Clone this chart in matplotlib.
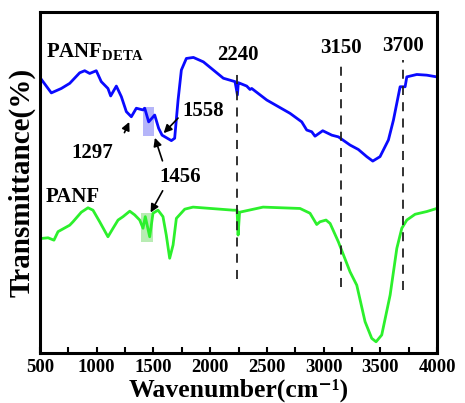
import numpy as np
import matplotlib.pyplot as plt
from matplotlib.patches import Rectangle

plt.rcParams['font.family'] = ['Liberation Serif', 'DejaVu Serif']
plt.rcParams['font.weight'] = 'bold'
plt.rcParams['axes.labelweight'] = 'bold'
plt.rcParams['mathtext.fontset'] = 'custom'
plt.rcParams['mathtext.rm'] = 'Liberation Serif:bold'
plt.rcParams['mathtext.bf'] = 'Liberation Serif:bold'
plt.rcParams['mathtext.default'] = 'rm'

# FTIR spectra (transmittance, arbitrary offset units)
wn_deta = [511, 600, 688, 762, 850, 894, 938, 996, 1040, 1099, 1123, 1173, 1217,
           1261, 1305, 1349, 1408, 1423, 1458, 1511, 1546, 1576, 1658, 1687, 1717,
           1746, 1790, 1852, 1940, 2028, 2116, 2219, 2240, 2248, 2263, 2322, 2351,
           2366, 2499, 2704, 2807, 2851, 2895, 2924, 2992, 3072, 3130, 3233, 3306,
           3380, 3433, 3497, 3571, 3615, 3674, 3718, 3733, 3821, 3909, 3997]
t_deta = [80.3, 76.3, 77.6, 79.1, 82.2, 82.8, 82.0, 82.8, 79.6, 77.6, 75.4, 78.3, 75.2,
          70.8, 69.3, 71.8, 71.3, 71.8, 67.8, 69.8, 65.9, 63.9, 62.3, 63.0, 74.2,
          83.0, 86.4, 86.7, 85.4, 83.0, 80.6, 79.6, 75.7, 79.3, 79.1, 78.3, 77.3,
          77.6, 74.2, 70.3, 67.8, 65.4, 64.9, 63.6, 65.2, 63.9, 63.4, 61.0, 59.7,
          57.6, 56.3, 57.6, 62.5, 68.3, 78.1, 78.1, 81.0, 81.7, 81.5, 81.0]

wn_panf = [511, 571, 623, 659, 762, 791, 864, 923, 967, 1026, 1099, 1144, 1188,
           1232, 1291, 1335, 1379, 1408, 1428, 1467, 1496, 1540, 1584, 1613, 1643,
           1673, 1702, 1776, 1849, 2201, 2237, 2246, 2259, 2466, 2792, 2880, 2939,
           2968, 3021, 3057, 3130, 3233, 3292, 3365, 3424, 3462, 3512, 3586, 3645,
           3689, 3733, 3806, 3909, 3997]
t_panf = [33.6, 33.8, 33.1, 35.6, 37.5, 38.5, 41.3, 42.6, 41.9, 38.5, 34.1, 36.6, 39.0,
          40.0, 41.6, 40.5, 39.0, 36.6, 40.0, 34.1, 41.0, 41.9, 40.0, 34.6, 27.8,
          31.7, 39.5, 42.2, 42.8, 41.9, 41.9, 34.6, 41.3, 42.8, 42.4, 41.0, 37.7,
          38.5, 39.0, 38.0, 32.6, 23.8, 19.9, 9.2, 4.3, 3.3, 5.3, 17.0, 30.7,
          36.6, 39.0, 40.7, 41.5, 42.4]

# marked bands: position, dashed line extent, label height
band_pos = [2240, 3150, 3700]
band_lo = [21.7, 19.4, 18.5]
band_hi = [83.0, 85.9, 85.9]
band_text_y = [87.4, 89.6, 90.2]

fig = plt.figure(figsize=(4.65, 4.03), dpi=100)
ax = fig.add_axes([0.086, 0.124, 0.854, 0.846])

ax.plot(wn_deta, t_deta, color='#0a0aff', lw=2.0)
ax.plot(wn_panf, t_panf, color='#2cf02c', lw=2.0)

for x, lo, hi, ty in zip(band_pos, band_lo, band_hi, band_text_y):
    ax.plot([x, x], [lo, hi], color='#222222', lw=1.3, ls=(0, (5, 4)))
    ax.text(x, ty, str(x), ha='center', va='center', fontsize=15)

# highlighted 1456 region on both curves
ax.add_patch(Rectangle((1408, 63.6), 97, 8.5, color='#7878f5', alpha=0.55, lw=0))
ax.add_patch(Rectangle((1390, 32.6), 106, 8.5, color='#a6e8a0', alpha=0.8, lw=0))

arrow = dict(arrowstyle='-|>', color='black', lw=1.2, mutation_scale=12)
ax.annotate('', xy=(1297, 68.5), xytext=(1234, 63.9), arrowprops=arrow)
ax.annotate('', xy=(1573, 63.9), xytext=(1734, 69.5), arrowprops=arrow)
ax.annotate('', xy=(1505, 63.9), xytext=(1587, 55.6), arrowprops=arrow)
ax.annotate('', xy=(1463, 40.5), xytext=(1593, 48.3), arrowprops=arrow)
ax.text(958, 58.8, '1297', ha='center', va='center', fontsize=15)
ax.text(1937, 71.0, '1558', ha='center', va='center', fontsize=15)
ax.text(1734, 51.5, '1456', ha='center', va='center', fontsize=15)

ax.text(555, 86.8, r'PANF$_{DETA}$', ha='left', va='baseline', fontsize=15)
ax.text(548, 44.3, 'PANF', ha='left', va='baseline', fontsize=15)

ax.set_xlim(500, 4000)
ax.set_ylim(0, 100)
ax.set_xticks(np.arange(500, 4001, 500))
ax.set_xticks(np.arange(750, 4000, 500), minor=True)
ax.set_yticks([])
ax.tick_params(axis='x', which='both', direction='in', length=4, width=1.5,
               labelsize=13.5, pad=4, top=False)
for s in ax.spines.values():
    s.set_linewidth(2.2)

fig.text(0.513, 0.002, 'Wavenumber(cm⁻¹)', ha='center', va='bottom',
         fontsize=18.5, fontweight='bold')
ax.set_ylabel('Transmittance(%)', fontsize=21, labelpad=3)

fig.savefig('out.png', dpi=100)
